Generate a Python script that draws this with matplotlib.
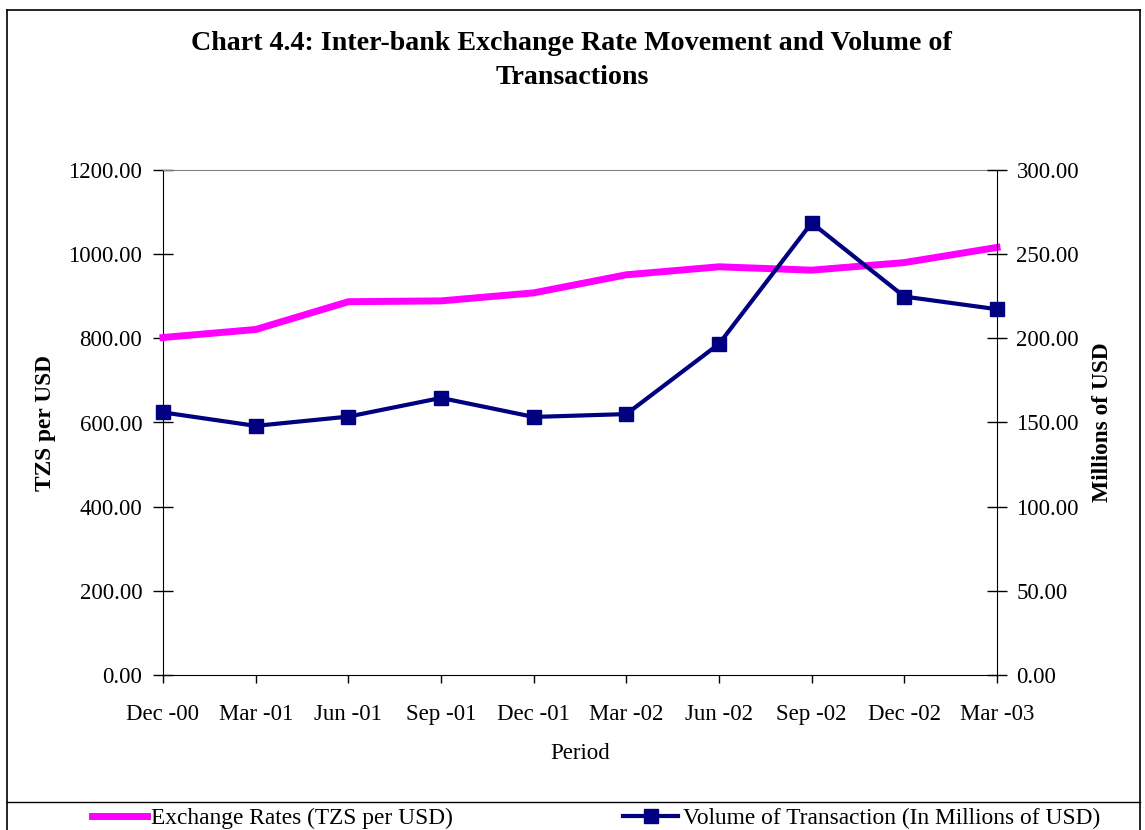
import matplotlib
matplotlib.use("Agg")
import matplotlib.pyplot as plt
from matplotlib.lines import Line2D

periods = ["Dec -00", "Mar -01", "Jun -01", "Sep -01", "Dec -01",
           "Mar -02", "Jun -02", "Sep -02", "Dec -02", "Mar -03"]
exchange_rates = [802, 821, 887, 889, 908, 951, 970, 962, 980, 1016]
volume = [156.0, 148.0, 153.5, 164.6, 153.3, 155.0, 196.7, 268.6, 224.8, 217.3]
left_ticks = [0, 200, 400, 600, 800, 1000, 1200]
right_ticks = [0, 50, 100, 150, 200, 250, 300]

plt.rcParams['font.family'] = ['Liberation Serif', 'DejaVu Serif']

W, H = 1145, 830
fig = plt.figure(figsize=(W / 100, H / 100), dpi=100)

# outer frame
fig.add_artist(Line2D([7 / W, 7 / W], [0, 1 - 10 / H], color='black', lw=1.2, transform=fig.transFigure))
fig.add_artist(Line2D([1140 / W, 1140 / W], [0, 1 - 10 / H], color='black', lw=1.2, transform=fig.transFigure))
fig.add_artist(Line2D([7 / W, 1140 / W], [1 - 10 / H, 1 - 10 / H], color='black', lw=1.2, transform=fig.transFigure))
fig.add_artist(Line2D([7 / W, 1140 / W], [1 - 802 / H, 1 - 802 / H], color='black', lw=1.0, transform=fig.transFigure))

ax = fig.add_axes([163 / W, 1 - 675 / H, (997 - 163) / W, (675 - 170) / H])
x = list(range(len(periods)))

ax.plot(x, exchange_rates, color='#FF00FF', lw=5, solid_capstyle='projecting', clip_on=False, zorder=3)
ax.set_xlim(0, len(periods) - 1)
ax.set_ylim(0, 1200)
ax.set_yticks(left_ticks)
ax.set_yticklabels([f"{v:.2f}" for v in left_ticks])
ax.set_xticks(x)
ax.set_xticklabels(periods)
ax.tick_params(axis='y', direction='inout', length=14, width=1, pad=8, labelsize=16.5)
ax.tick_params(axis='x', direction='out', length=6, width=1, pad=15, labelsize=16.5)
ax.spines['top'].set_color('#808080')
ax.spines['right'].set_visible(False)
ax.set_ylabel("TZS per USD", fontsize=16.8, fontweight='bold', labelpad=9)
ax.set_xlabel("Period", fontsize=16.5, labelpad=13)

ax2 = ax.twinx()
ax2.plot(x, volume, color='#000080', lw=3, marker='s', markersize=10, clip_on=False, zorder=4)
ax2.set_ylim(0, 300)
ax2.set_yticks(right_ticks)
ax2.set_yticklabels([f"{v:.2f}" for v in right_ticks])
ax2.tick_params(axis='y', direction='inout', length=14, width=1, pad=7, labelsize=16.5)
ax2.spines['top'].set_visible(False)
ax2.spines['left'].set_visible(False)
ax2.spines['bottom'].set_visible(False)
ax2.set_ylabel("Millions of USD", fontsize=16.8, fontweight='bold', labelpad=9)
ax2.set_zorder(ax.get_zorder() + 1)
ax2.patch.set_visible(False)

fig.text(571 / W, 1 - 43 / H, "Chart 4.4: Inter-bank Exchange Rate Movement and Volume of",
         ha='center', va='center', fontsize=20.2, fontweight='bold')
fig.text(572 / W, 1 - 77 / H, "Transactions",
         ha='center', va='center', fontsize=20.2, fontweight='bold')

h1 = Line2D([], [], color='#FF00FF', lw=5)
h2 = Line2D([], [], color='#000080', lw=3, marker='s', markersize=10)
fig.legend([h1, h2], ["Exchange Rates (TZS per USD)", "Volume of Transaction (In Millions of USD)"],
           loc='center', bbox_to_anchor=(596 / W, 1 - 818 / H), ncol=2, frameon=False,
           fontsize=16.8, handlelength=2.35, handletextpad=0.2, columnspacing=7.3,
           borderpad=0, borderaxespad=0)

fig.savefig("out.png", dpi=100)
